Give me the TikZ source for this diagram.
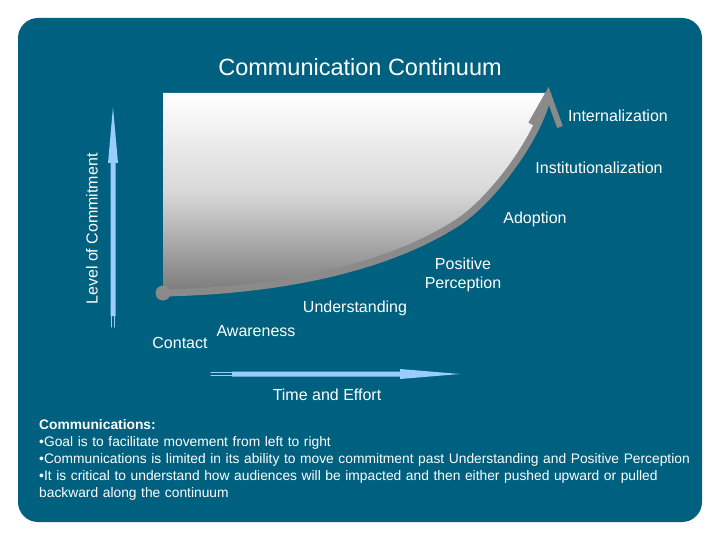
\documentclass[tikz,border=0pt]{standalone}
\usepackage{fontspec}
\setmainfont{Liberation Sans}
\usepackage{tikz}
\usetikzlibrary{arrows.meta, calc, positioning}
\definecolor{cteal}{HTML}{00607F}
\definecolor{cblue}{HTML}{99CCFF}
\definecolor{cgray}{HTML}{8A8A8A}
\definecolor{cshade}{HTML}{7A7A7A}
\tikzset{
  lab/.style      = {text=white, inner sep=1pt, font=\fontsize{16}{19}\selectfont},
  ttl/.style      = {lab, font=\fontsize{23.5}{28}\selectfont},
  notes/.style    = {text=white, inner sep=0pt, anchor=north west, align=left,
                     text width=680pt, font=\fontsize{13.8}{17}\selectfont},
  curve/.style    = {draw=cgray, line width=7pt},
  chev/.style     = {draw=cgray, line width=6pt, line cap=butt, line join=miter},
  axisarr/.style  = {fill=cblue},
  axistail/.style = {draw=cblue, line width=1.2pt},
}
\begin{document}
\begin{tikzpicture}[x=1pt, y=-1pt, line cap=round, line join=round]
  % background panel
  \useasboundingbox (0,0) rectangle (720,540);
  \fill[cteal, rounded corners=20pt] (18,18) rectangle (702,522);
  % shaded area under the continuum
  \shade[top color=white, bottom color=cshade, middle color=white!70!cshade]
    (163,93) -- (548,93) .. controls (538,140) and (490,202) .. (457,223)
    .. controls (377,274) and (263,291) .. (163,293) -- cycle;
  % continuum curve
  \coordinate (start) at (163,293);
  \coordinate (bend) at (457,223);
  \coordinate (tip) at (548,95);
  \draw[curve] (start) .. controls (263,291) and (377,274) .. (bend)
    .. controls (490,202) and (538,140) .. (tip);
  \fill[cgray] (start) circle (7.5);
  \draw[chev] (531,124) -- (548,94) -- (560,127);
  % vertical axis
  \fill[axisarr] (110.5,316) -- (110.5,163) -- (108,163) -- (113,107)
    -- (118,163) -- (115.5,163) -- (115.5,316) -- cycle;
  \draw[axistail] (111.5,314) -- (111.5,327) (114.5,314) -- (114.5,327);
  % horizontal axis
  \fill[axisarr] (232,371.5) -- (400,371.5) -- (400,369) -- (460,374)
    -- (400,379) -- (400,376.5) -- (232,376.5) -- cycle;
  \draw[axistail] (211,372.5) -- (234,372.5) (211,375.5) -- (234,375.5);
  % labels
  \node[ttl] (title) at (360,67) {Communication Continuum};
  \node[lab] (intern) at (618,116) {Internalization};
  \node[lab] (instit) at (599,168) {Institutionalization};
  \node[lab] (adopt) at (535,219) {Adoption};
  \node[lab, align=center] (posit) at (463,275) {Positive\\Perception};
  \node[lab] (under) at (355,308) {Understanding};
  \node[lab] (aware) at (256,331) {Awareness};
  \node[lab] (contact) at (180,343) {Contact};
  \node[lab] (time) at (327,395) {Time and Effort};
  \node[lab, rotate=90] (commit) at (92,229) {Level of Commitment};
  % notes
  \node[notes] (notetext) at (39,419) {\textbf{Communications:}\\
    •Goal is to facilitate movement from left to right\\
    •Communications is limited in its ability to move commitment past Understanding and Positive Perception\\
    •It is critical to understand how audiences will be impacted and then either pushed upward or pulled\\
    backward along the continuum};
\end{tikzpicture}
\end{document}
